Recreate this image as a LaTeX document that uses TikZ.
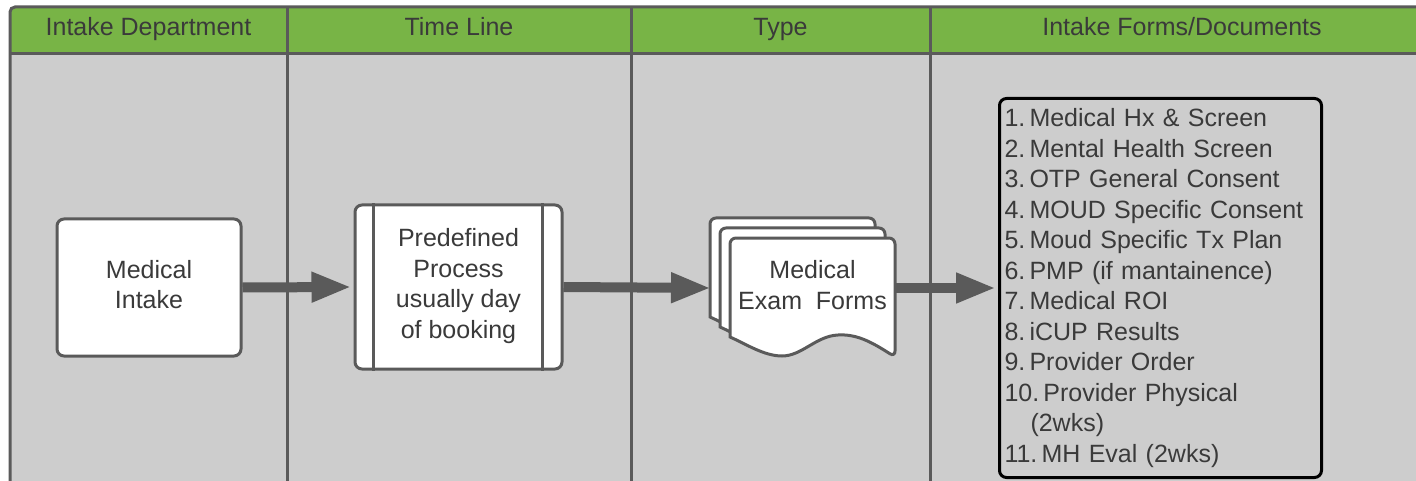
\documentclass[tikz,border=0pt]{standalone}
\usepackage{fontspec}
\setmainfont{Liberation Sans}
\usetikzlibrary{arrows.meta}
\definecolor{lanegreen}{HTML}{78B446}
\definecolor{lanegray}{HTML}{CDCDCD}
\definecolor{edgegray}{HTML}{5A5A5A}
\definecolor{inkgray}{HTML}{3A3A3A}
\begin{document}
\begin{tikzpicture}[x=1pt,y=-1pt,
  font=\fontsize{25}{30.5}\selectfont,
  header/.style={text=inkgray,inner sep=0pt,anchor=base},
  procbox/.style={draw=edgegray,line width=3pt,fill=white,rounded corners=7pt,inner sep=0pt},
  boxtext/.style={text=inkgray,align=center,inner sep=0pt},
  flow/.style={draw=edgegray,line width=10pt,
    -{Triangle[length=40pt,width=28pt]}},
  page/.style={draw=edgegray,line width=3pt,fill=white,rounded corners=6pt},
]
\useasboundingbox (0,0) rectangle (1416,481);
\fill[white] (0,0) rectangle (1416,481);

% lanes: body and header band
\fill[lanegray] (10,54) rectangle (1420,490);
\fill[lanegreen,rounded corners=5pt] (10,7) -- (1420,7) -- (1420,54) -- (10,54) -- cycle;
\draw[edgegray,line width=3pt,rounded corners=5pt] (10,490) -- (10,7) -- (1420,7);
\draw[edgegray,line width=3pt] (10,54) -- (1420,54);
\foreach \x in {287,631,930}
  \draw[edgegray,line width=3pt] (\x,7) -- (\x,490);

\node[header] (h1) at (148.5,36) {Intake Department};
\node[header] (h2) at (459,36) {Time Line};
\node[header] (h3) at (780.5,36) {Type};
\node[header] (h4) at (1182,36) {Intake Forms/Documents};

% medical intake
\node[procbox,minimum width=184pt,minimum height=137pt] (intake) at (149,287.5) {};
\node[boxtext,yshift=3pt] (intaketext) at (intake.center) {Medical\\Intake};

% predefined process
\node[procbox,minimum width=207pt,minimum height=164pt] (proc) at (458.5,287) {};
\node[boxtext,yshift=1pt] (proctext) at (proc.center)
  {Predefined\\Process\\usually day\\of booking};
\draw[edgegray,line width=3pt] ([xshift=20pt]proc.north west) -- ([xshift=20pt]proc.south west);
\draw[edgegray,line width=3pt] ([xshift=-21pt]proc.north east) -- ([xshift=-21pt]proc.south east);

% multi-document stack
\foreach \d in {20,10,0}{
  \begin{scope}[shift={(-\d,-\d)}]
    \filldraw[page] (730,338) -- (730,238) -- (895,238) -- (895,357)
      [sharp corners] .. controls (870,341) and (856,334) .. (838,335)
      .. controls (816,336) and (802,356) .. (782,356)
      .. controls (764,356) and (746,344) .. (730,337) -- cycle;
  \end{scope}
}
\node[inner sep=0pt,minimum width=165pt,minimum height=100pt] (forms) at (812.5,288) {};
\node[boxtext,yshift=3pt] (formstext) at (forms.center) {Medical\\Exam\ \ Forms};

% list of intake documents
\node[draw=black,line width=3pt,rounded corners=7pt,fill=lanegray,text=inkgray,
  align=left,anchor=north west,minimum width=322pt,minimum height=379pt,
  text width=312pt,inner xsep=5pt,inner ysep=0pt] (docs) at (998,97)
  {1.\,Medical Hx \& Screen\\
   2.\,Mental Health Screen\\
   3.\,OTP General Consent\\
   4.\,MOUD Specific Consent\\
   5.\,Moud Specific Tx Plan\\
   6.\,PMP (if mantainence)\\
   7.\,Medical ROI\\
   8.\,iCUP Results\\
   9.\,Provider Order\\
   10.\,Provider Physical\\
   \hspace*{26pt}(2wks)\\
   11.\,MH Eval (2wks)};

% connectors
\draw[flow] (intake.east) -- ([xshift=-2pt]proc.west);
\draw[flow] (proc.east) -- (711,288);
\draw[flow] (forms.east) -- ([xshift=-2pt]docs.west |- forms.east);
\end{tikzpicture}
\end{document}
